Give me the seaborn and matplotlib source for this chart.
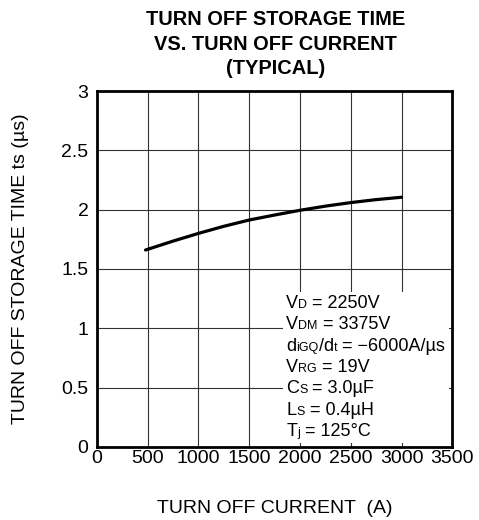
import seaborn as sns
import numpy as np
import pandas as pd
import matplotlib.pyplot as plt
from matplotlib.offsetbox import TextArea, HPacker, VPacker, AnchoredOffsetbox

# Datos (corriente de apagado en A, tiempo ts en us)
current = [480, 750, 1000, 1250, 1500, 1750, 2000, 2250, 2500, 2750, 3000]
storage_time = [1.66, 1.735, 1.80, 1.86, 1.913, 1.955, 1.995, 2.03, 2.06, 2.085, 2.105]

x_ticks = [0, 500, 1000, 1500, 2000, 2500, 3000, 3500]
y_ticks = [0, 0.5, 1, 1.5, 2, 2.5, 3]
y_tick_labels = ['0', '0.5', '1', '1.5', '2', '2.5', '3']

# condiciones de prueba: (texto, 'n' normal / 's' subindice)
conditions = [
    [('V', 'n'), ('D', 's'), (' = 2250V', 'n')],
    [('V', 'n'), ('DM', 's'), (' = 3375V', 'n')],
    [('d', 'n'), ('iGQ', 's'), ('/d', 'n'), ('t', 's'), (' = \u22126000A/\u00b5s', 'n')],
    [('V', 'n'), ('RG', 's'), (' = 19V', 'n')],
    [('C', 'n'), ('S', 's'), (' = 3.0\u00b5F', 'n')],
    [('L', 'n'), ('S', 's'), (' = 0.4\u00b5H', 'n')],
    [('T', 'n'), ('j', 's'), (' = 125\u00b0C', 'n')],
]

df = pd.DataFrame({'current': current, 'ts': storage_time})

sns.set_style('white')
plt.rcParams['font.family'] = ['Liberation Sans', 'DejaVu Sans']
plt.rcParams['text.color'] = 'black'
plt.rcParams['axes.labelcolor'] = 'black'

fig = plt.figure(figsize=(4.79, 5.2), dpi=100)
ax = fig.add_axes([0.202, 0.1406, 0.7424, 0.6842])

sns.lineplot(data=df, x='current', y='ts', ax=ax, color='black', linewidth=2.3, zorder=3)

ax.set_xlim(0, 3500)
ax.set_ylim(0, 3)
ax.set_xticks(x_ticks)
ax.set_yticks(y_ticks)
ax.set_yticklabels(y_tick_labels)
ax.grid(True, color='#333333', linewidth=0.8)
ax.tick_params(axis='both', length=0, labelsize=14, colors='black')
ax.tick_params(axis='x', pad=2)
ax.tick_params(axis='y', pad=6)
for s in ax.spines.values():
    s.set_color('black')
    s.set_linewidth(2)
    s.set_zorder(4)

ax.set_xlabel('TURN OFF CURRENT  (A)', fontsize=14, labelpad=24, color='black')
ax.set_ylabel('TURN OFF STORAGE TIME ts (\u00b5s)', fontsize=14, labelpad=23, color='black')

fig.text(0.576, 0.915, 'TURN OFF STORAGE TIME\nVS. TURN OFF CURRENT\n(TYPICAL)',
         ha='center', va='center', fontsize=14.4, fontweight='bold', linespacing=1.38,
         color='black')

# cuadro de condiciones con subindices
rows = []
for line in conditions:
    parts = []
    for txt, kind in line:
        size = 13 if kind == 'n' else 9
        parts.append(TextArea(txt, textprops=dict(fontsize=size, color='black')))
    rows.append(HPacker(children=parts, align='baseline', pad=0, sep=0))
box = VPacker(children=rows, align='left', pad=0, sep=3.1)
anchored = AnchoredOffsetbox(loc='upper left', child=box, pad=0.25, borderpad=0,
                             frameon=True, bbox_to_anchor=(1830, 1.31),
                             bbox_transform=ax.transData)
anchored.patch.set_facecolor('white')
anchored.patch.set_edgecolor('none')
anchored.set_zorder(2)
ax.add_artist(anchored)

fig.savefig('out.png', dpi=100)
